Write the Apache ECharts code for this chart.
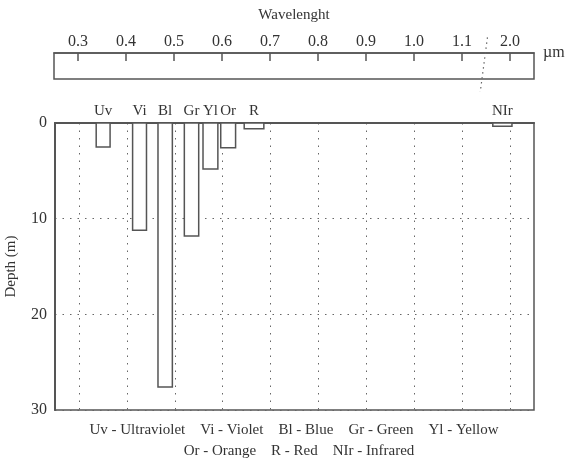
<!DOCTYPE html>
<html>
<head>
<meta charset="utf-8">
<title>Light penetration depth by wavelength</title>
<script src="https://cdn.jsdelivr.net/npm/echarts@6/dist/echarts.min.js"></script>
<style>
  html, body { margin: 0; padding: 0; background: #fff; }
  #chart { width: 565px; height: 463px; }
</style>
</head>
<body>
<div id="chart"></div>
<script>
// Spectral bands: code, wavelength range (µm, on the drawn scale) and penetration depth (m)
const bandCodes = ['Uv', 'Vi', 'Bl', 'Gr', 'Yl', 'Or', 'R', 'NIr'];
const bandStart = [0.336, 0.412, 0.465, 0.520, 0.559, 0.596, 0.645, 1.164];
const bandEnd   = [0.365, 0.441, 0.495, 0.550, 0.590, 0.627, 0.686, 1.204];
const depthValues = [2.5, 11.2, 27.6, 11.8, 4.8, 2.6, 0.6, 0.35];

// Wavelength scale ticks; the last position stands for 2.0 µm after the axis break
const tickValues = [0.3, 0.4, 0.5, 0.6, 0.7, 0.8, 0.9, 1.0, 1.1, 1.2];
const tickLabels = ['0.3', '0.4', '0.5', '0.6', '0.7', '0.8', '0.9', '1.0', '1.1', '2.0'];

// Axis break marker (slanted dotted line), as [wavelength, box height] pairs
const breakLine = [[1.153, 1.6], [1.138, -0.5]];

const depthTicks = [0, 10, 20, 30];

const legendLine1 = 'Uv - Ultraviolet    Vi - Violet    Bl - Blue    Gr - Green    Yl - Yellow';
const legendLine2 = 'Or - Orange    R - Red    NIr - Infrared';

const INK = '#555';
const TEXT = '#333';
const SERIF = '"Liberation Serif", "DejaVu Serif", serif';

function tickLabel(v) {
  for (let i = 0; i < tickValues.length; i++) {
    if (Math.abs(tickValues[i] - v) < 1e-6) return tickLabels[i];
  }
  return '';
}

const bandData = bandCodes.map((c, i) => [bandStart[i], bandEnd[i], depthValues[i], c]);

const chart = echarts.init(document.getElementById('chart'), null, { renderer: 'canvas' });

chart.setOption({
  backgroundColor: '#fff',
  animation: false,
  graphic: [
    {
      type: 'text', x: 294, y: 15,
      style: { text: 'Wavelenght', fill: TEXT, font: '15px ' + SERIF, align: 'center', verticalAlign: 'middle' }
    },
    {
      type: 'text', x: 294, y: 430,
      style: { text: legendLine1, fill: TEXT, font: '15px ' + SERIF, align: 'center', verticalAlign: 'middle' }
    },
    {
      type: 'text', x: 299, y: 451,
      style: { text: legendLine2, fill: TEXT, font: '15px ' + SERIF, align: 'center', verticalAlign: 'middle' }
    }
  ],
  grid: [
    { left: 54, right: 31, top: 53, height: 26, show: true, borderColor: INK, borderWidth: 1.5,
      backgroundColor: 'transparent', outerBoundsMode: 'none', containLabel: false },
    { left: 55, right: 31, top: 123, bottom: 53, show: true, borderColor: INK, borderWidth: 1.5,
      backgroundColor: 'transparent', outerBoundsMode: 'none', containLabel: false }
  ],
  xAxis: [
    {
      gridIndex: 0, type: 'value', position: 'top', min: 0.25, max: 1.25,
      name: 'µm', nameLocation: 'end', nameGap: 9,
      nameTextStyle: { color: TEXT, fontFamily: SERIF, fontSize: 16, verticalAlign: 'middle' },
      axisLine: { show: true, onZero: false, lineStyle: { color: INK, width: 1.5 } },
      axisTick: { show: true, inside: true, length: 8, customValues: tickValues, lineStyle: { color: INK, width: 1.5 } },
      axisLabel: { show: true, customValues: tickValues, formatter: tickLabel, margin: 3, color: TEXT, fontFamily: SERIF, fontSize: 16 },
      splitLine: { show: false }
    },
    {
      gridIndex: 1, type: 'value', position: 'top', min: 0.25, max: 1.25,
      axisLine: { show: true, onZero: false, lineStyle: { color: INK, width: 2 } },
      axisTick: { show: false, customValues: tickValues },
      axisLabel: { show: false, customValues: tickValues },
      splitLine: { show: true, lineStyle: { color: '#666', width: 1, type: [1.5, 6] } }
    }
  ],
  yAxis: [
    { gridIndex: 0, type: 'value', min: 0, max: 1, show: false },
    {
      gridIndex: 1, type: 'value', inverse: true, min: 0, max: 30, interval: 10,
      name: 'Depth (m)', nameLocation: 'middle', nameRotate: 90, nameGap: 36,
      nameTextStyle: { color: TEXT, fontFamily: SERIF, fontSize: 15 },
      axisLine: { show: true, onZero: false, lineStyle: { color: INK, width: 2 } },
      axisTick: { show: false },
      axisLabel: { color: TEXT, fontFamily: SERIF, fontSize: 16, margin: 8,
        formatter: v => depthTicks.indexOf(v) >= 0 ? String(v) : '' },
      splitLine: { show: true, lineStyle: { color: '#666', width: 1, type: [1.5, 6] } }
    }
  ],
  series: [
    {
      // penetration depth bars, hanging down from the surface
      type: 'custom',
      xAxisIndex: 1, yAxisIndex: 1,
      data: bandData,
      renderItem: function (params, api) {
        const p0 = api.coord([api.value(0), 0]);
        const p1 = api.coord([api.value(1), api.value(2)]);
        const code = bandCodes[params.dataIndex];
        return {
          type: 'group',
          children: [
            {
              type: 'rect',
              shape: { x: p0[0], y: p0[1], width: p1[0] - p0[0], height: p1[1] - p0[1] },
              style: { fill: '#fff', stroke: INK, lineWidth: 1.5 },
              z2: 10
            },
            {
              type: 'text',
              x: (p0[0] + p1[0]) / 2, y: p0[1] - 12,
              style: { text: code, fill: TEXT, font: '15px ' + SERIF, align: 'center', verticalAlign: 'middle' }
            }
          ]
        };
      },
      z: 5
    },
    {
      // axis break marker across the wavelength scale
      type: 'custom',
      xAxisIndex: 0, yAxisIndex: 0,
      data: [0],
      clip: false,
      renderItem: function (params, api) {
        const a = api.coord(breakLine[0]);
        const b = api.coord(breakLine[1]);
        return {
          type: 'line',
          shape: { x1: a[0], y1: a[1], x2: b[0], y2: b[1] },
          style: { stroke: '#666', lineWidth: 1.2, lineDash: [1.5, 3.5] }
        };
      }
    }
  ]
});
</script>
</body>
</html>
